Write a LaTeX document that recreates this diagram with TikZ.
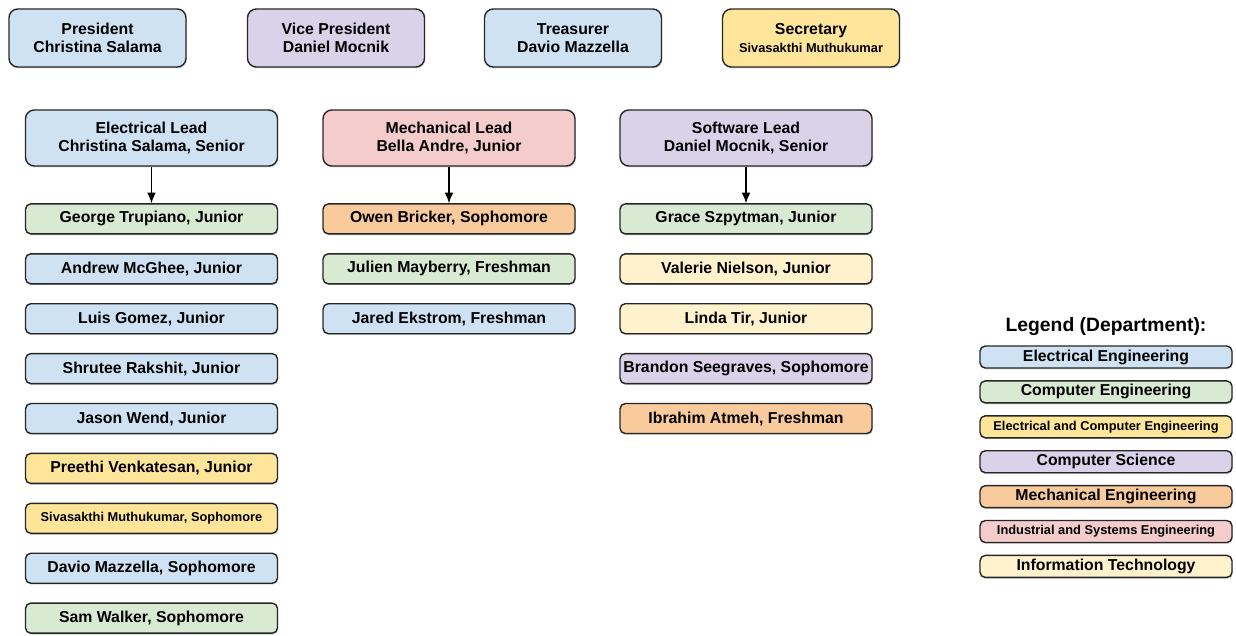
\documentclass[tikz,border=0pt]{standalone}
\usepackage{fontspec}
\setmainfont{Liberation Sans}
\usepackage{xcolor}
\usetikzlibrary{arrows.meta,positioning,shadows}

\definecolor{eeblue}{HTML}{CFE2F3}
\definecolor{cegreen}{HTML}{D9EAD3}
\definecolor{ecegold}{HTML}{FFE599}
\definecolor{cspurple}{HTML}{D9D2E9}
\definecolor{meorange}{HTML}{F9CB9C}
\definecolor{isepink}{HTML}{F4CCCC}
\definecolor{ityellow}{HTML}{FFF2CC}

\begin{document}
\begin{tikzpicture}[
  box/.style={rectangle, rounded corners=3pt, draw=black!85, line width=0.8pt,
    align=center, inner sep=1pt, font=\bfseries\fontsize{9}{10.4}\selectfont,
    drop shadow={shadow xshift=0.4pt, shadow yshift=-0.8pt, opacity=0.35}},
  officer/.style={box, rounded corners=5pt, minimum width=3.54cm, minimum height=1.16cm},
  lead/.style={box, rounded corners=5pt, minimum width=5.04cm, minimum height=1.12cm},
  member/.style={box, minimum width=5.04cm, minimum height=0.6cm},
  legend/.style={box, minimum width=5.04cm, minimum height=0.44cm},
  small/.style={font=\bfseries\fontsize{7.3}{8.5}\selectfont},
  arrow/.style={-{Latex[length=6pt,width=5pt]}, line width=0.8pt},
  node distance=0.37cm,
]
\useasboundingbox (0,0) rectangle (24.72,-12.7);

% officers
\node[officer, fill=eeblue] (pres) at (1.95,-0.76) {President\\Christina Salama};
\node[officer, fill=cspurple] (vp) at (6.72,-0.76) {Vice President\\Daniel Mocnik};
\node[officer, fill=eeblue] (treas) at (11.46,-0.76) {Treasurer\\Davio Mazzella};
\node[officer, fill=ecegold] (sec) at (16.22,-0.76) {Secretary\\{\fontsize{7.3}{8.5}\selectfont Sivasakthi Muthukumar}};

% leads
\node[lead, fill=eeblue] (elec) at (3.03,-2.76) {Electrical Lead\\Christina Salama, Senior};
\node[lead, fill=isepink] (mech) at (8.98,-2.76) {Mechanical Lead\\Bella Andre, Junior};
\node[lead, fill=cspurple] (soft) at (14.92,-2.76) {Software Lead\\Daniel Mocnik, Senior};

% electrical team
\node[member, fill=cegreen, below=0.73cm of elec] (george) {George Trupiano, Junior};
\node[member, fill=eeblue, below=of george] (andrew) {Andrew McGhee, Junior};
\node[member, fill=eeblue, below=of andrew] (luis) {Luis Gomez, Junior};
\node[member, fill=eeblue, below=of luis] (shrutee) {Shrutee Rakshit, Junior};
\node[member, fill=eeblue, below=of shrutee] (jason) {Jason Wend, Junior};
\node[member, fill=ecegold, below=of jason] (preethi) {Preethi Venkatesan, Junior};
\node[member, small, fill=ecegold, below=of preethi] (siva) {Sivasakthi Muthukumar, Sophomore};
\node[member, fill=eeblue, below=of siva] (davio) {Davio Mazzella, Sophomore};
\node[member, fill=cegreen, below=of davio] (sam) {Sam Walker, Sophomore};

% mechanical team
\node[member, fill=meorange, below=0.73cm of mech] (owen) {Owen Bricker, Sophomore};
\node[member, fill=cegreen, below=of owen] (julien) {Julien Mayberry, Freshman};
\node[member, fill=eeblue, below=of julien] (jared) {Jared Ekstrom, Freshman};

% software team
\node[member, fill=cegreen, below=0.73cm of soft] (grace) {Grace Szpytman, Junior};
\node[member, fill=ityellow, below=of grace] (valerie) {Valerie Nielson, Junior};
\node[member, fill=ityellow, below=of valerie] (linda) {Linda Tir, Junior};
\node[member, fill=cspurple, below=of linda] (brandon) {Brandon Seegraves, Sophomore};
\node[member, fill=meorange, below=of brandon] (ibrahim) {Ibrahim Atmeh, Freshman};

\draw[arrow] (elec) -- (george);
\draw[arrow] (mech) -- (owen);
\draw[arrow] (soft) -- (grace);

% legend
\node[font=\bfseries\fontsize{11}{13}\selectfont] (legtitle) at (22.12,-6.54) {Legend (Department):};
\node[legend, fill=eeblue] (lee) at (22.12,-7.14) {Electrical Engineering};
\node[legend, fill=cegreen, below=0.23cm of lee] (lce) {Computer Engineering};
\node[legend, small, fill=ecegold, below=0.23cm of lce] (lece) {Electrical and Computer Engineering};
\node[legend, fill=cspurple, below=0.23cm of lece] (lcs) {Computer Science};
\node[legend, fill=meorange, below=0.23cm of lcs] (lme) {Mechanical Engineering};
\node[legend, small, fill=isepink, below=0.23cm of lme] (lise) {Industrial and Systems Engineering};
\node[legend, fill=ityellow, below=0.23cm of lise] (lit) {Information Technology};
\end{tikzpicture}
\end{document}
